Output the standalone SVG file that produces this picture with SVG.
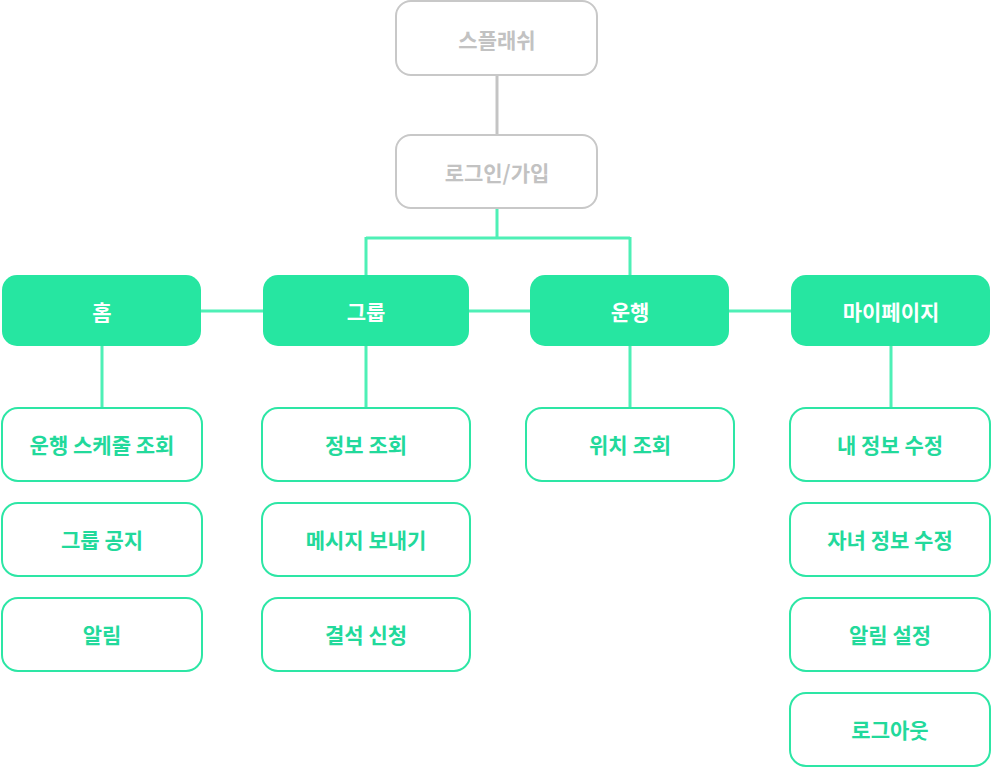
<svg xmlns="http://www.w3.org/2000/svg" width="993" height="769" viewBox="0 0 993 769">
<style>
text{font-family:"Noto Sans CJK KR","Noto Sans",sans-serif;font-weight:700;font-size:21px;text-anchor:middle;dominant-baseline:central}
.g rect{fill:#fff;stroke:#c8c8c8;stroke-width:2}
.g text{fill:#c2c2c2}
.m rect{fill:#26e6a1;stroke:none}
.m text{fill:#fff}
.c rect{fill:#fff;stroke:#2de6a5;stroke-width:2}
.c text{fill:#22d99b}
.gl{stroke:#c4c4c4;stroke-width:3;fill:none}
.ln{stroke:#4ef0b6;stroke-width:3;fill:none}
</style>
<rect width="993" height="769" fill="#fff"/>
<g id="connectors">
<path class="gl" d="M497 75V135"/>
<path class="ln" d="M497 208V238M366 238H630M366 237V275M630 237V275"/>
<path class="ln" d="M201 311H263M469 311H530M729 311H791"/>
<path class="ln" d="M102 346V407M366 346V407M630 346V407M891 346V407"/>
</g>
<g id="splash" class="g"><rect x="396" y="1" width="201" height="74" rx="15"/><text x="497" y="39">스플래쉬</text></g>
<g id="login" class="g"><rect x="396" y="135" width="201" height="73" rx="15"/><text x="497" y="172">로그인/가입</text></g>
<g id="home" class="m"><rect x="2" y="275" width="199" height="71" rx="15"/><text x="102" y="311">홈</text></g>
<g id="group" class="m"><rect x="263" y="275" width="206" height="71" rx="15"/><text x="366" y="311">그룹</text></g>
<g id="drive" class="m"><rect x="530" y="275" width="199" height="71" rx="15"/><text x="630" y="311">운행</text></g>
<g id="mypage" class="m"><rect x="791" y="275" width="199" height="71" rx="15"/><text x="891" y="311">마이페이지</text></g>
<g id="h1" class="c"><rect x="2" y="408" width="200" height="73" rx="16"/><text x="102" y="444">운행 스케줄 조회</text></g>
<g id="h2" class="c"><rect x="2" y="503" width="200" height="73" rx="16"/><text x="102" y="539">그룹 공지</text></g>
<g id="h3" class="c"><rect x="2" y="598" width="200" height="73" rx="16"/><text x="102" y="634">알림</text></g>
<g id="g1" class="c"><rect x="262" y="408" width="208" height="73" rx="16"/><text x="366" y="444">정보 조회</text></g>
<g id="g2" class="c"><rect x="262" y="503" width="208" height="73" rx="16"/><text x="366" y="539">메시지 보내기</text></g>
<g id="g3" class="c"><rect x="262" y="598" width="208" height="73" rx="16"/><text x="366" y="634">결석 신청</text></g>
<g id="d1" class="c"><rect x="526" y="408" width="208" height="73" rx="16"/><text x="630" y="444">위치 조회</text></g>
<g id="m1" class="c"><rect x="790" y="408" width="200" height="73" rx="16"/><text x="890" y="444">내 정보 수정</text></g>
<g id="m2" class="c"><rect x="790" y="503" width="200" height="73" rx="16"/><text x="890" y="539">자녀 정보 수정</text></g>
<g id="m3" class="c"><rect x="790" y="598" width="200" height="73" rx="16"/><text x="890" y="634">알림 설정</text></g>
<g id="m4" class="c"><rect x="790" y="693" width="200" height="73" rx="16"/><text x="890" y="729">로그아웃</text></g>
</svg>
